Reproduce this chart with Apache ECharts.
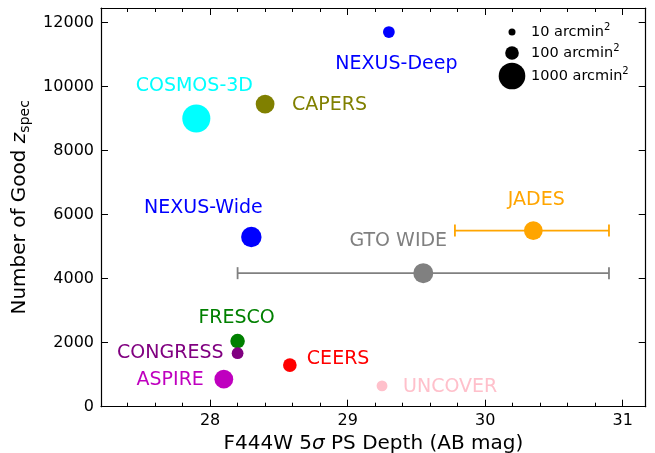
<!DOCTYPE html>
<html><head><meta charset="utf-8">
<script src="https://cdn.jsdelivr.net/npm/echarts@6/dist/echarts.min.js"></script>
<style>html,body{margin:0;padding:0;background:#fff;overflow:hidden}#c{width:655px;height:453px}</style>
</head><body><div id="c"></div>
<script>
// ---- data ----
const names  = ['NEXUS-Deep','CAPERS','COSMOS-3D','NEXUS-Wide','JADES','GTO WIDE','FRESCO','CONGRESS','ASPIRE','CEERS','UNCOVER'];
const depths = [29.30, 28.40, 27.90, 28.30, 30.35, 29.55, 28.20, 28.20, 28.10, 28.58, 29.25];
const nspec  = [11700, 9450, 9000, 5300, 5500, 4170, 2050, 1670, 860, 1300, 650];
const areas  = [60, 300, 1200, 400, 300, 370, 124, 60, 300, 100, 45];
const errNames = ['JADES','GTO WIDE'];
const errLo  = [29.78, 28.20];
const errHi  = [30.90, 30.90];
const errY   = [5500, 4170];
const legendAreas = [10, 100, 1000];
const xTicks = [28, 29, 30, 31];
const yTicks = [0, 2000, 4000, 6000, 8000, 10000, 12000];

// ---- styles ----
const colors = {'NEXUS-Deep':'#0000ff','CAPERS':'#808000','COSMOS-3D':'#00ffff','NEXUS-Wide':'#0000ff','JADES':'#ffa500','GTO WIDE':'#808080','FRESCO':'#008000','CONGRESS':'#800080','ASPIRE':'#bf00bf','CEERS':'#ff0000','UNCOVER':'#ffc0cb'};
const labelPlace = {
  'NEXUS-Deep':['center',[7.5,32]], 'CAPERS':['left',[27,1]], 'COSMOS-3D':['center',[-2,-32]],
  'NEXUS-Wide':['center',[-48,-29]], 'JADES':['center',[3,-31]], 'GTO WIDE':['center',[-25,-32]],
  'FRESCO':['center',[-1,-23]], 'CONGRESS':['right',[-14,0]], 'ASPIRE':['right',[-20,1]],
  'CEERS':['left',[17,-6]], 'UNCOVER':['left',[21,1]]
};
const FONT = 'DejaVu Sans';
const sizeOf = a => 7 * Math.pow(a / 10, 0.29);
const XMIN = 27.207, XMAX = 31.167, YMIN = 0, YMAX = 12450;
const minorX = [];
for (let i = 0; i <= 20; i++) { const v = Math.round((27.2 + 0.2 * i) * 10) / 10; if (v > XMIN && v < XMAX && Math.abs(v - Math.round(v)) > 1e-6) minorX.push(v); }

const chart = echarts.init(document.getElementById('c'), null, {renderer: 'canvas'});
const axLine = {show: true, lineStyle: {color: '#000', width: 1.2}};
function xAx(pos, major, labels, name) {
  return {
    type: 'value', position: pos, min: XMIN, max: XMAX, gridIndex: 0,
    axisLine: major ? axLine : {show: false},
    axisTick: {show: true, inside: true, length: major ? 7 : 4, customValues: major ? xTicks : minorX, lineStyle: {color: '#000', width: 1}},
    axisLabel: labels ? {show: true, customValues: xTicks, color: '#000', fontSize: 16, fontFamily: FONT, margin: 6, formatter: v => String(v)} : {show: false},
    splitLine: {show: false},
    name: name || '', nameLocation: 'middle', nameGap: 24,
    nameTextStyle: {color: '#000', fontSize: 20, fontFamily: FONT, rich: {i: {fontStyle: 'italic', fontSize: 20, fontFamily: FONT, color: '#000'}}}
  };
}
function yAx(pos, labels, name) {
  return {
    type: 'value', position: pos, min: YMIN, max: YMAX, gridIndex: 0,
    axisLine: axLine,
    axisTick: {show: true, inside: true, length: 7, customValues: yTicks, lineStyle: {color: '#000', width: 1}},
    axisLabel: labels ? {show: true, customValues: yTicks, color: '#000', fontSize: 16, fontFamily: FONT, margin: 7, formatter: v => String(v)} : {show: false},
    splitLine: {show: false},
    name: name || '', nameLocation: 'middle', nameGap: 60, nameRotate: 90,
    nameTextStyle: {color: '#000', fontSize: 20, fontFamily: FONT, rich: {
      n: {fontSize: 20, fontFamily: FONT, color: '#000'},
      z: {fontSize: 20, fontFamily: FONT, color: '#000', fontStyle: 'italic'},
      s: {fontSize: 14, fontFamily: FONT, color: '#000', padding: [10, 0, 0, 0]}
    }}
  };
}

const scatterData = names.map((n, i) => ({
  name: n, value: [depths[i], nspec[i]],
  symbolSize: sizeOf(areas[i]),
  itemStyle: {color: colors[n], opacity: 1},
  label: {show: true, formatter: n, position: 'inside', align: labelPlace[n][0], verticalAlign: 'middle',
          offset: labelPlace[n][1], color: colors[n], opacity: 1, fontSize: 19, fontFamily: FONT}
}));
const errData = errNames.map((n, i) => ({name: n, value: [errLo[i], errHi[i], errY[i]], itemStyle: {color: colors[n]}}));

const legendGraphics = [];
const legY = [32, 53, 76];
legendAreas.forEach((a, i) => {
  legendGraphics.push({type: 'circle', shape: {cx: 512, cy: legY[i], r: sizeOf(a) / 2}, style: {fill: '#000'}});
  legendGraphics.push({type: 'text', x: 531, y: legY[i], style: {
    text: '{a|' + a + ' arcmin}{s|2}', verticalAlign: 'middle', align: 'left',
    rich: {a: {fontSize: 14.5, fontFamily: FONT, fill: '#000'}, s: {fontSize: 10, fontFamily: FONT, fill: '#000', padding: [0, 0, 9, 0]}}
  }});
});

chart.setOption({
  animation: false,
  backgroundColor: '#fff',
  grid: {left: 101, right: 9.3, top: 8, bottom: 46.3, containLabel: false, outerBoundsMode: 'none'},
  xAxis: [xAx('bottom', true, true, 'F444W 5{i|σ} PS Depth (AB mag)'), xAx('bottom', false, false), xAx('top', true, false), xAx('top', false, false)],
  yAxis: [yAx('left', true, '{n|Number of Good }{z|z}{s|spec}'), yAx('right', false)],
  series: [
    {type: 'custom', xAxisIndex: 0, yAxisIndex: 0, z: 2, data: errData,
     renderItem: function (params, api) {
       const lo = api.coord([api.value(0), api.value(2)]);
       const hi = api.coord([api.value(1), api.value(2)]);
       const st = {stroke: errData[params.dataIndex].itemStyle.color, lineWidth: 1.8};
       const cap = 6;
       return {type: 'group', children: [
         {type: 'line', shape: {x1: lo[0], y1: lo[1], x2: hi[0], y2: hi[1]}, style: st},
         {type: 'line', shape: {x1: lo[0], y1: lo[1] - cap, x2: lo[0], y2: lo[1] + cap}, style: st},
         {type: 'line', shape: {x1: hi[0], y1: hi[1] - cap, x2: hi[0], y2: hi[1] + cap}, style: st}
       ]};
     }},
    {type: 'scatter', xAxisIndex: 0, yAxisIndex: 0, z: 3, data: scatterData, symbol: 'circle', emphasis: {disabled: true}}
  ],
  graphic: legendGraphics
});
</script></body></html>
